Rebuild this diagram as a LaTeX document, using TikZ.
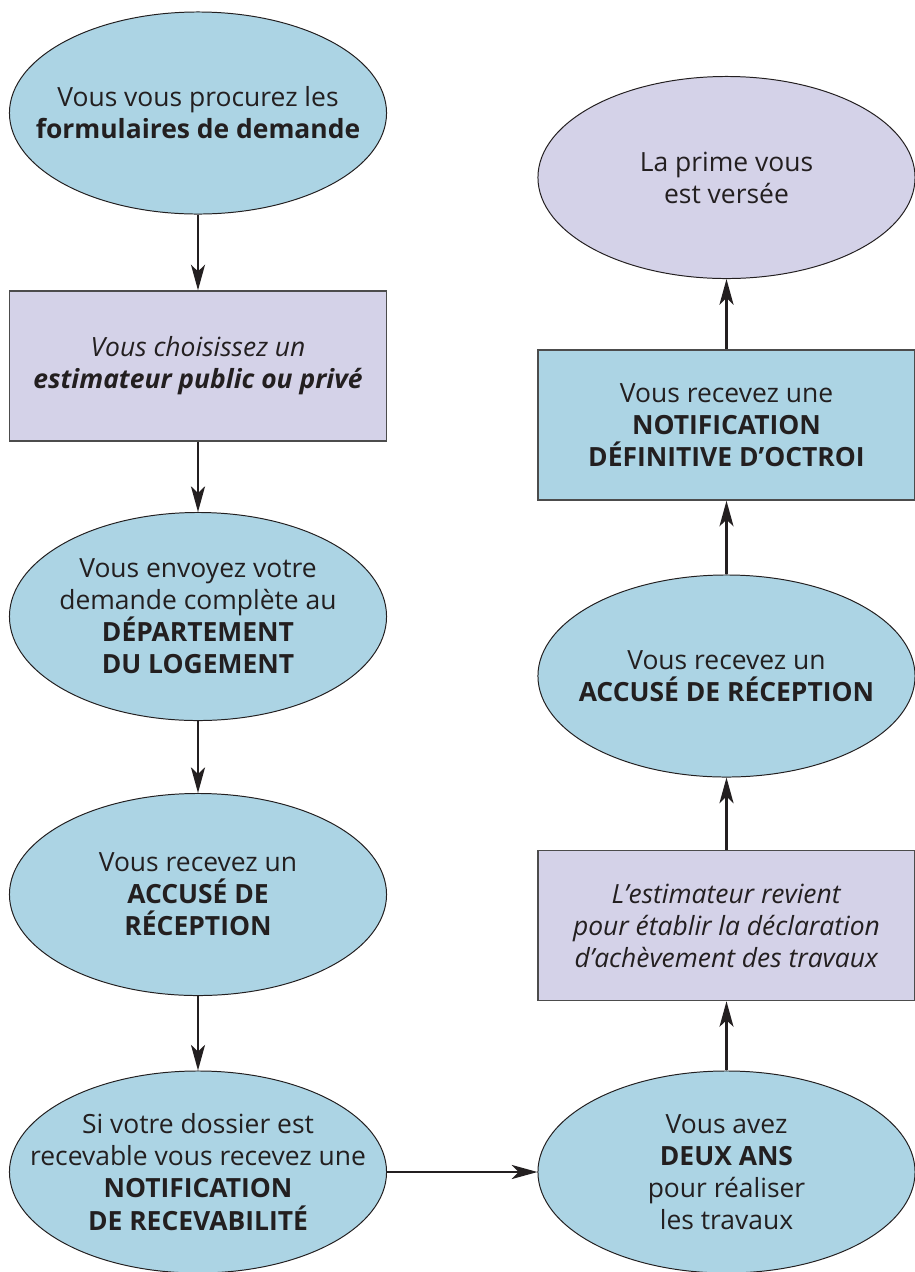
\documentclass[tikz,border=0pt]{standalone}
\usepackage{fontspec}
\setmainfont{Open Sans}
\usepackage{tikz}
\usetikzlibrary{shapes.geometric,arrows.meta}

\definecolor{stepblue}{HTML}{ACD4E4}
\definecolor{steplilac}{HTML}{D4D2E8}
\definecolor{inkdark}{HTML}{231F20}

\begin{document}
\begin{tikzpicture}[x=0.025cm,y=-0.025cm,
  font=\fontsize{18.8}{22.8}\selectfont,text=inkdark,
  oval/.style={ellipse,draw=inkdark,line width=0.7pt,inner sep=-1.2cm,align=center,
    minimum width=9.425cm,minimum height=5.05cm},
  box/.style={rectangle,draw=black!70,line width=1pt,inner sep=0pt,align=center,
    minimum width=9.425cm,minimum height=3.75cm},
  flow/.style={-{Stealth[length=6.4mm,width=3.5mm,inset=1.7mm]},line width=2pt,draw=inkdark}]
\useasboundingbox (0,0) rectangle (915,1272);
% left column, top to bottom
\node[oval,fill=stepblue] (forms) at (198,113)
  {Vous vous procurez les\\ \textbf{formulaires de demande}};
\node[box,fill=steplilac] (expert) at (198,366)
  {\textit{Vous choisissez un}\\ \textbf{\textit{estimateur public ou privé}}};
\node[oval,fill=stepblue,minimum height=5.2cm] (send) at (198,616.5)
  {Vous envoyez votre\\ demande complète au\\ \textbf{DÉPARTEMENT}\\ \textbf{DU LOGEMENT}};
\node[oval,fill=stepblue] (ack1) at (198,894.5)
  {Vous recevez un\\ \textbf{ACCUSÉ DE}\\ \textbf{RÉCEPTION}};
\node[oval,fill=stepblue] (admit) at (198,1172)
  {Si votre dossier est\\ recevable vous recevez une\\ \textbf{NOTIFICATION}\\ \textbf{DE RECEVABILITÉ}};
% right column, bottom to top
\node[oval,fill=stepblue] (twoyears) at (726.5,1172)
  {Vous avez\\ \textbf{DEUX ANS}\\ pour réaliser\\ les travaux};
\node[box,fill=steplilac] (finish) at (726.5,925.5)
  {\textit{L’estimateur revient}\\ \textit{pour établir la déclaration}\\ \textit{d’achèvement des travaux}};
\node[oval,fill=stepblue] (ack2) at (726.5,676)
  {Vous recevez un\\ \textbf{ACCUSÉ DE RÉCEPTION}};
\node[box,fill=stepblue] (grant) at (726.5,425)
  {Vous recevez une\\ \textbf{NOTIFICATION}\\ \textbf{DÉFINITIVE D’OCTROI}};
\node[oval,fill=steplilac] (paid) at (726.5,177.5)
  {La prime vous\\ est versée};
%
\draw[flow] (forms) -- (expert);
\draw[flow] (expert) -- (send);
\draw[flow] (send) -- (ack1);
\draw[flow] (ack1) -- (admit);
\draw[flow] (admit) -- (twoyears);
\draw[flow] (twoyears) -- (finish);
\draw[flow] (finish) -- (ack2);
\draw[flow] (ack2) -- (grant);
\draw[flow] (grant) -- (paid);
\end{tikzpicture}
\end{document}
